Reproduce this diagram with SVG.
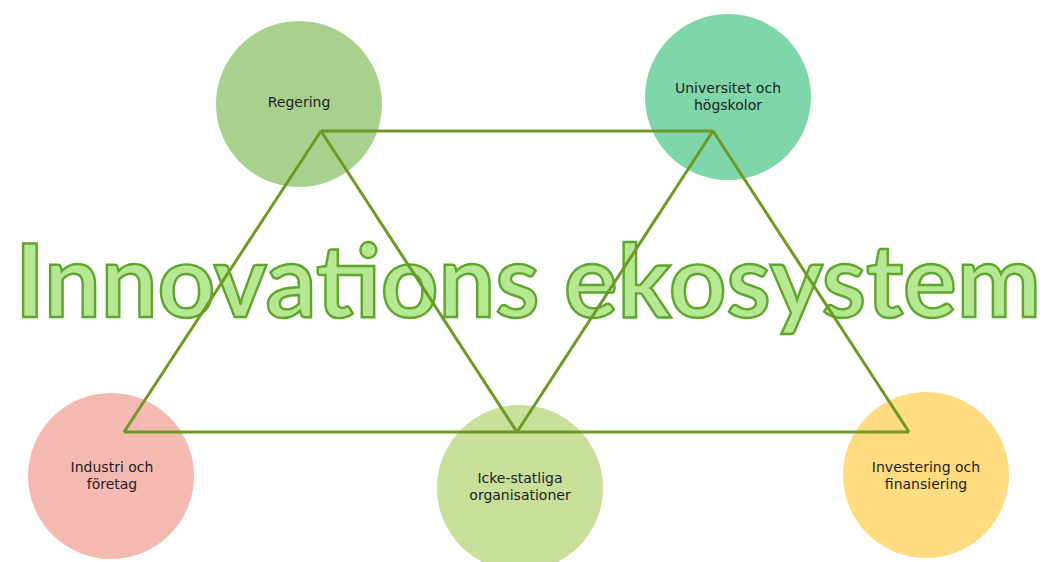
<svg xmlns="http://www.w3.org/2000/svg" width="1048" height="562" viewBox="0 0 1048 562">
<style>
.lbl{font-family:"DejaVu Sans",sans-serif;font-size:14px;fill:#1e1e1e;text-anchor:middle}
.title{font-family:Lato,"Open Sans",sans-serif;font-size:96px;font-weight:bold;fill:#b6e893;stroke:#5ea62c;stroke-width:2.3px}
.conn{fill:none;stroke:#6c9a24;stroke-width:3;stroke-linejoin:miter}
</style>
<rect width="1048" height="562" fill="#ffffff"/>
<g id="regering"><circle cx="299" cy="104" r="83" fill="#a9d18e"/><text class="lbl" x="299" y="107">Regering</text></g>
<g id="universitet"><circle cx="728" cy="97" r="83" fill="#7fd6a8"/><text class="lbl" x="728" y="93">Universitet och</text><text class="lbl" x="728" y="110">högskolor</text></g>
<g id="industri"><circle cx="111" cy="476" r="83" fill="#f4b9b1"/><text class="lbl" x="112" y="472">Industri och</text><text class="lbl" x="112" y="489">företag</text></g>
<g id="icke"><circle cx="520" cy="488" r="83" fill="#c8e09a"/><text class="lbl" x="520" y="483">Icke-statliga</text><text class="lbl" x="520" y="500">organisationer</text></g>
<g id="investering"><circle cx="926" cy="475" r="83" fill="#ffdc80"/><text class="lbl" x="926" y="472">Investering och</text><text class="lbl" x="926" y="489">finansiering</text></g>
<g id="title" transform="translate(15,317) scale(1,1.0625)"><text class="title" x="0" y="0" textLength="1026" lengthAdjust="spacingAndGlyphs">Innovations ekosystem</text></g>
<g id="connectors">
<path class="conn" d="M321,131 L713,131 M124,432 L909,432 M321,131 L124,432 M321,131 L517,432 M713,131 L517,432 M713,131 L909,432"/>
</g>
</svg>
